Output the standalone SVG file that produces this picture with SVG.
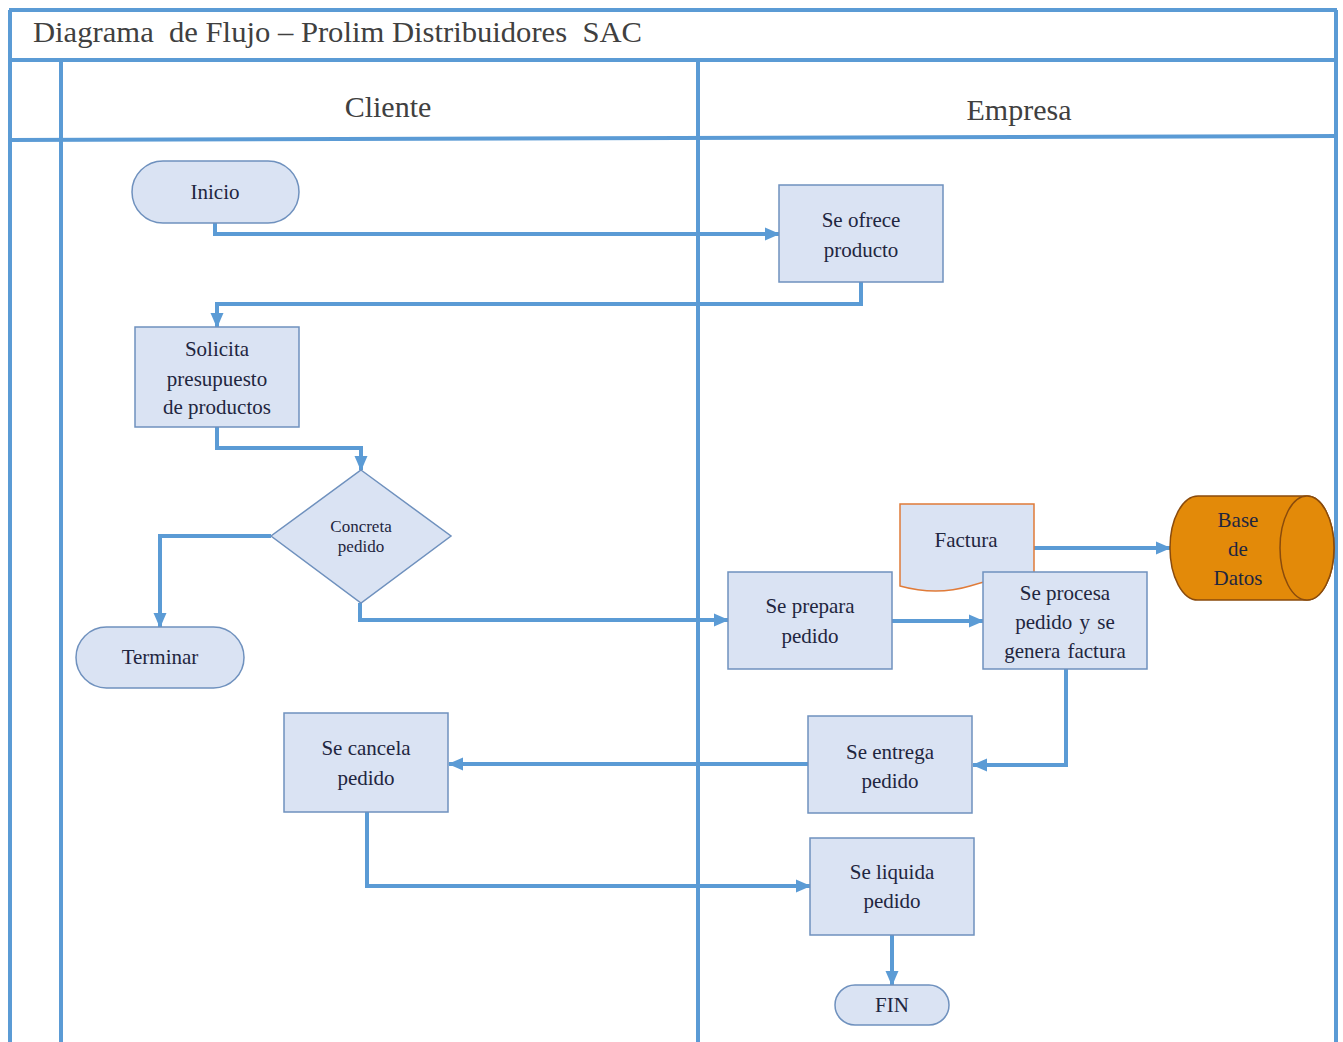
<svg xmlns="http://www.w3.org/2000/svg" width="1343" height="1042" viewBox="0 0 1343 1042">
  <style>
    .frame { fill: none; stroke: #5B9BD5; stroke-width: 4; }
    .box { fill: #DAE3F3; stroke: #6F91BE; stroke-width: 1.5; }
    .doc { fill: #DAE3F3; stroke: #E07B39; stroke-width: 1.5; }
    .db { fill: #E38A09; stroke: #8A4B0C; stroke-width: 1.5; }
    .txt { font-family: "Liberation Serif", "Times New Roman", serif; font-size: 21px; fill: #1F2640; text-anchor: middle; }
    .small { font-size: 17px; }
    .head { font-family: "Liberation Serif", "Times New Roman", serif; font-size: 30px; fill: #404040; text-anchor: middle; }
    .title { font-family: "Liberation Serif", "Times New Roman", serif; font-size: 30px; fill: #404040; }
    .link { fill: none; stroke: #5B9BD5; stroke-width: 4; marker-end: url(#arrow); }
  </style>
  <defs>
    <marker id="arrow" markerUnits="userSpaceOnUse" markerWidth="15" markerHeight="15" viewBox="0 0 15 15" refX="14" refY="7.5" orient="auto">
      <path d="M0,1 L15,7.5 L0,14 Z" fill="#5B9BD5"/>
    </marker>
  </defs>

  <rect width="1343" height="1042" fill="#FFFFFF"/>

  <!-- swimlane frame -->
  <g id="frame">
    <path class="frame" d="M9,10 H1337 M9,60 H1337 M10,10 V1042 M1336,10 V1042 M61,60 V1042 M698,60 V1042"/>
    <path class="frame" d="M9,140 L1337,136"/>
    <text class="title" x="33" y="42" xml:space="preserve" textLength="609" lengthAdjust="spacingAndGlyphs">Diagrama  de Flujo – Prolim Distribuidores  SAC</text>
    <text class="head" x="388" y="117">Cliente</text>
    <text class="head" x="1019" y="120">Empresa</text>
  </g>

  <!-- connectors -->
  <g id="connectors">
    <path class="link" d="M215,223 V234 H779"/>
    <path class="link" d="M861,282 V304 H217 V327"/>
    <path class="link" d="M217,427 V448 H361 V470"/>
    <path class="link" d="M271,536 H160 V627"/>
    <path class="link" d="M360,603 V620 H728"/>
    <path class="link" d="M892,621 H983"/>
    <path class="link" d="M1034,548 H1170"/>
    <path class="link" d="M1066,669 V765 H973"/>
    <path class="link" d="M808,764 H449"/>
    <path class="link" d="M367,812 V886 H810"/>
    <path class="link" d="M892,935 V985"/>
  </g>

  <g id="inicio">
    <rect class="box" x="132" y="161" width="167" height="62" rx="31"/>
    <text class="txt" x="215" y="199">Inicio</text>
  </g>

  <g id="se-ofrece">
    <rect class="box" x="779" y="185" width="164" height="97"/>
    <text class="txt" x="861" y="227">Se ofrece</text>
    <text class="txt" x="861" y="257">producto</text>
  </g>

  <g id="solicita">
    <rect class="box" x="135" y="327" width="164" height="100"/>
    <text class="txt" x="217" y="356">Solicita</text>
    <text class="txt" x="217" y="386">presupuesto</text>
    <text class="txt" x="217" y="414">de productos</text>
  </g>

  <g id="concreta">
    <path class="box" d="M361,470 L451,536 L361,603 L271,536 Z"/>
    <text class="txt small" x="361" y="532">Concreta</text>
    <text class="txt small" x="361" y="552">pedido</text>
  </g>

  <g id="terminar">
    <rect class="box" x="76" y="627" width="168" height="61" rx="30.5"/>
    <text class="txt" x="160" y="664">Terminar</text>
  </g>

  <g id="se-cancela">
    <rect class="box" x="284" y="713" width="164" height="99"/>
    <text class="txt" x="366" y="755">Se cancela</text>
    <text class="txt" x="366" y="785">pedido</text>
  </g>

  <g id="se-prepara">
    <rect class="box" x="728" y="572" width="164" height="97"/>
    <text class="txt" x="810" y="613">Se prepara</text>
    <text class="txt" x="810" y="643">pedido</text>
  </g>

  <g id="factura">
    <path class="doc" d="M900,504 H1034 V574 C1010,574 990,580 970,586 C950,592 925,593 900,586 Z"/>
    <text class="txt" x="966" y="547">Factura</text>
  </g>

  <g id="se-procesa">
    <rect class="box" x="983" y="572" width="164" height="97"/>
    <text class="txt" x="1065" y="600">Se procesa</text>
    <text class="txt" x="1065" y="629" word-spacing="2">pedido y se</text>
    <text class="txt" x="1065" y="658" word-spacing="2">genera factura</text>
  </g>

  <g id="base-de-datos">
    <path class="db" d="M1198,496 H1307 A27,52 0 0 1 1307,600 H1198 A28,52 0 0 1 1198,496 Z"/>
    <ellipse class="db" cx="1307" cy="548" rx="27" ry="52"/>
    <text class="txt" x="1238" y="527">Base</text>
    <text class="txt" x="1238" y="556">de</text>
    <text class="txt" x="1238" y="585">Datos</text>
  </g>

  <g id="se-entrega">
    <rect class="box" x="808" y="716" width="164" height="97"/>
    <text class="txt" x="890" y="759">Se entrega</text>
    <text class="txt" x="890" y="788">pedido</text>
  </g>

  <g id="se-liquida">
    <rect class="box" x="810" y="838" width="164" height="97"/>
    <text class="txt" x="892" y="879">Se liquida</text>
    <text class="txt" x="892" y="908">pedido</text>
  </g>

  <g id="fin">
    <rect class="box" x="835" y="985" width="114" height="40" rx="20"/>
    <text class="txt" x="892" y="1012">FIN</text>
  </g>
</svg>
